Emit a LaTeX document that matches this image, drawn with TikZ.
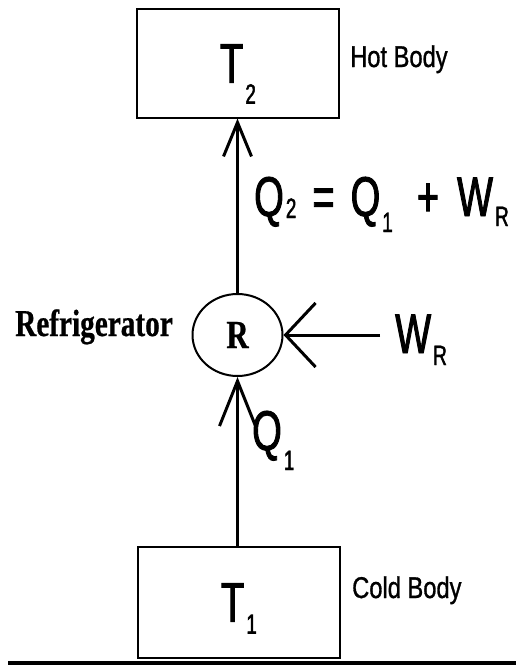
\documentclass[tikz,border=0pt]{standalone}
\usepackage{fontspec}
\usepackage{graphicx}
\usetikzlibrary{positioning, arrows.meta, shapes.geometric}
\newfontfamily\symfont[FakeStretch=0.68, FakeBold=1.6]{Liberation Sans}
\newfontfamily\tagfont[FakeStretch=0.79, FakeBold=1]{Liberation Sans}
\newfontfamily\refont[FakeStretch=0.77, FakeBold=0.6]{Liberation Serif Bold}
\newcommand{\lowsub}[2][8pt]{\kern2pt\raisebox{-#1}{\scalebox{0.5}{#2}}}

\begin{document}
\begin{tikzpicture}[x=1pt, y=-1pt,
    body/.style={draw, line width=2pt, minimum width=202pt, minimum height=108pt, inner sep=0pt, text depth=0pt, font=\symfont\fontsize{56}{60}\selectfont},
    sym/.style={inner sep=0pt, font=\symfont\fontsize{56}{60}\selectfont},
    tag/.style={inner sep=0pt, font=\tagfont\fontsize{30}{34}\selectfont},
    serif/.style={inner sep=0pt, font=\refont\fontsize{38}{42}\selectfont},
    flow/.style={line width=3pt, -{Straight Barb[length=34pt, width=28pt]}}]
    \useasboundingbox (0, 0) rectangle (516, 669);

    % bodies
    \node[body] (hot) at (238, 63.5) {T\lowsub[21pt]{2}};
    \node[tag, anchor=base west] (hottag) at (350, 67) {Hot Body};
    \node[body, minimum height=111pt] (cold) at (239, 602.5) {T\lowsub[12pt]{1}};
    \node[tag, anchor=base west] (coldtag) at (352, 598) {Cold Body};

    % refrigerator
    \node[serif, draw, ellipse, line width=2pt, minimum width=90pt, minimum height=82pt, font=\refont\fontsize{40}{44}\selectfont] (rcirc) at (237.5, 335) {R};
    \node[serif, anchor=base west] (fridge) at (15, 336) {Refrigerator};

    % heat and work
    \node[sym, anchor=base west] (balance) at (254, 216) {Q\lowsub[2pt]{2}\hspace{16pt}=\hspace{16pt}Q\lowsub[16pt]{1}\hspace{24pt}+\hspace{18pt}W\lowsub[10pt]{R}};
    \node[sym, anchor=base west] (wr) at (395, 353) {W\lowsub[12pt]{R}};
    \node[sym, anchor=base west] (qin) at (252, 450) {Q\lowsub[20pt]{1}};

    \draw[flow] (rcirc.north) -- (rcirc.north |- hot.south);
    \draw[flow, -{Straight Barb[length=45pt, width=36pt]}] (rcirc.south |- cold.north) -- (rcirc.south);
    \draw[flow, shorten <=15pt, -{Straight Barb[length=30pt, width=64pt]}] (wr.west |- rcirc.east) -- (rcirc.east);

    \draw[line width=3.5pt] (8, 663) -- (516, 663);
\end{tikzpicture}
\end{document}
